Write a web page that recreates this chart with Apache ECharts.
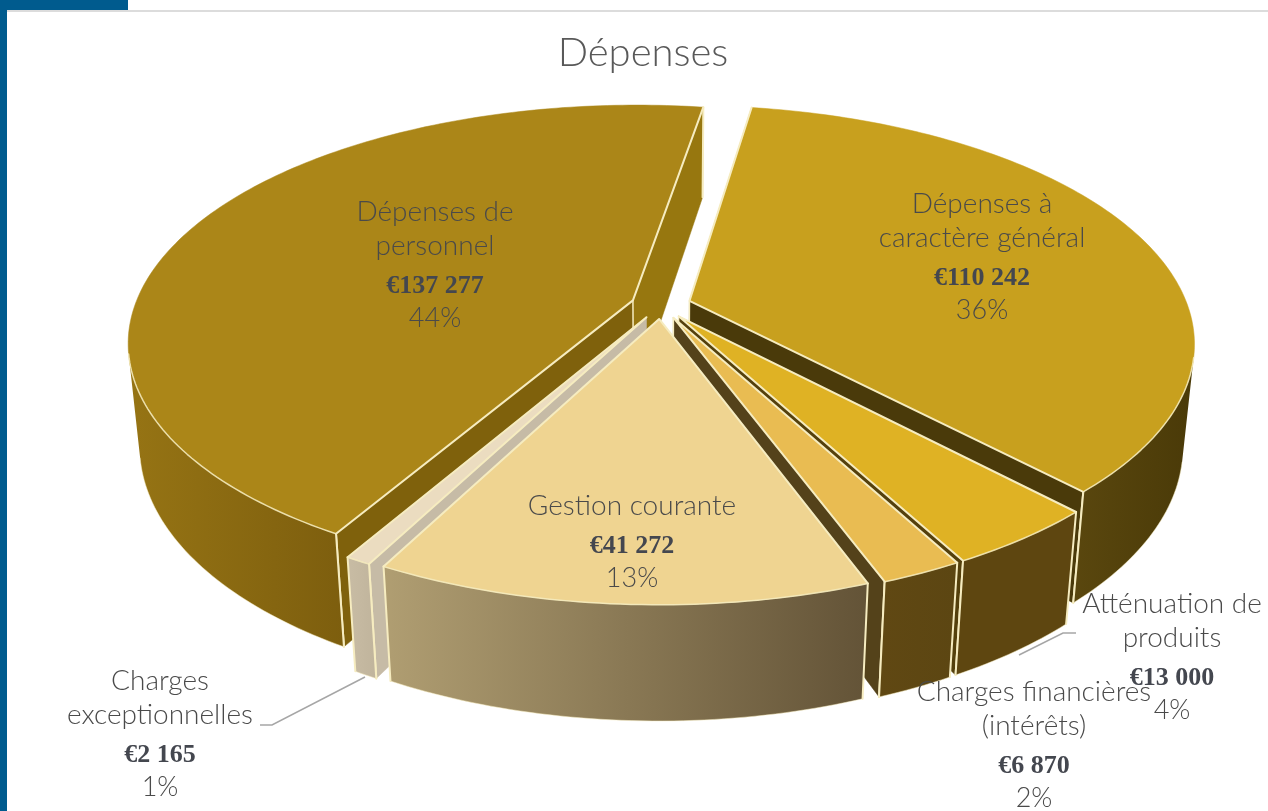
<!DOCTYPE html>
<html><head><meta charset="utf-8">
<style>html,body{margin:0;padding:0;background:#fff}#c{width:1268px;height:811px}</style>
<script src="https://cdn.jsdelivr.net/npm/echarts@6/dist/echarts.min.js"></script>
</head><body><div id="c"></div>
<script>
// ---- data (clockwise from the back of the pie)
const categories = ['Dépenses à\ncaractère général','Atténuation de\nproduits','Charges financières\n(intérêts)','Gestion courante','Charges\nexceptionnelles','Dépenses de\npersonnel'];
const values = [110242,13000,6870,41272,2165,137277];
const amountLabels = ['€110 242','€13 000','€6 870','€41 272','€2 165','€137 277'];
const percentLabels = ['36%','4%','2%','13%','1%','44%'];

// ---- styles
const topColors  = ['#c8a01e','#dfb224','#e9bc52','#efd491','#ebdcc0','#ab8618'];
const faceColors = ['#4a3a0a','#5c4510','#5a4718','#5c4a28','#c6bba6','#7f610c'];
const endFaceColors = ['#4a3a0a','#54400c','#54421a','#5c4a28','#c2b6a0','#97770f'];
const wallStops  = [['#5a470e','#4a3a08'],['#5e4610','#5e4610'],['#604813','#5c4612'],['#b09e72','#635337'],['#c8bca4','#c0b49c'],['#967414','#7d5e0e']];
const paintRank  = [1,2,3,5,4,0];
const edge = '#f6ecc0';

// ---- view
const startAngle = 9, explode = 0.06, thick = 0.235;
const view = {cx:661, cy:305, S:498, tilt:27.6*Math.PI/180, D:5.1};
function project(X,Y,Z){
  const yv = Y*Math.sin(view.tilt) - Z*Math.cos(view.tilt);
  const zv = Y*Math.cos(view.tilt) + Z*Math.sin(view.tilt);
  const s = 1/(1 - zv/view.D);
  return [view.cx + view.S*X*s, view.cy + view.S*yv*s];
}
function area(p){let a=0;for(let i=0;i<p.length;i++){const q=p[(i+1)%p.length];a+=p[i][0]*q[1]-q[0]*p[i][1];}return a/2;}
const total = values.reduce((a,b)=>a+b,0);

function renderItem(params, api){
  const i = params.dataIndex;
  let before = 0; for(let k=0;k<i;k++) before += values[k];
  const a0 = startAngle + before/total*360;
  const a1 = a0 + api.value(0)/total*360;
  const mid = (a0+a1)/2*Math.PI/180;
  const ox = Math.sin(mid)*explode, oy = -Math.cos(mid)*explode;
  const rim = (deg,Z)=>{const r=deg*Math.PI/180;return project(ox+Math.sin(r),oy-Math.cos(r),Z);};
  const apexT = project(ox,oy,0), apexB = project(ox,oy,-thick);
  const z = paintRank[i]*10;
  const children = [];
  const poly = (pts,fill,zz)=>children.push({type:'polygon',shape:{points:pts},z2:zz,
    style:{fill:fill,stroke:fill.type?null:fill,lineWidth:fill.type?0:0.5},silent:true});
  const line = (pts,lw,op,zz)=>children.push({type:'polyline',shape:{points:pts},z2:zz,
    style:{fill:null,stroke:edge,lineWidth:lw,opacity:op,lineJoin:'round',lineCap:'round'},silent:true});

  // radial cut faces
  const f0=[apexT,rim(a0,0),rim(a0,-thick),apexB];
  if(area(f0)<0){ poly(f0,faceColors[i],z); line([f0[1],f0[2]],2,1,z); }
  const f1=[rim(a1,0),apexT,apexB,rim(a1,-thick)];
  if(area(f1)<0){ poly(f1,endFaceColors[i],z); line([f1[0],f1[3]],2,1,z); line([f1[1],f1[2]],1.5,1,z); }

  // outer wall: only the part turned to the camera
  const steps = Math.max(4,Math.ceil(a1-a0));
  let upper=[],lower=[],firstVisible=false,lastVisible=false;
  for(let k=0;k<steps;k++){
    const d0=a0+(a1-a0)*k/steps,d1=a0+(a1-a0)*(k+1)/steps;
    const q=[rim(d0,0),rim(d1,0),rim(d1,-thick),rim(d0,-thick)];
    if(area(q)<0){
      if(k===0) firstVisible=true;
      if(k===steps-1) lastVisible=true;
      if(!upper.length){upper.push(q[0]);lower.push(q[3]);}
      upper.push(q[1]);lower.push(q[2]);
    }
  }
  if(upper.length){
    poly(upper.concat(lower.slice().reverse()),
      {type:'linear',x:0,y:0,x2:1,y2:0,colorStops:[{offset:0,color:wallStops[i][0]},{offset:1,color:wallStops[i][1]}]},z+1);
    line(lower,1,0.5,z+1);
    if(firstVisible) line([upper[0],lower[0]],2,1,z+1);
    if(lastVisible) line([upper[upper.length-1],lower[lower.length-1]],2,1,z+1);
  }

  // top
  const arc=[];
  for(let k=0;k<=steps;k++) arc.push(rim(a0+(a1-a0)*k/steps,0));
  poly([apexT].concat(arc),topColors[i],z+2);
  line([arc[0],apexT,arc[arc.length-1]],2,1,z+3);
  if(upper.length) line(upper,1.5,0.85,z+3);
  return {type:'group',children:children};
}

// ---- hand placed labels (centre x, top y) and leader lines
const labelSpots = [[982,187],[1172,587],[1034,675],[632,489],[160,664],[435,195]];
const leaderLines = [[[260,725],[272,725],[365,677]],[[1076,633],[1063,633],[1019,655]]];
const labelFont = '"Lato","Open Sans",sans-serif';
const labelGraphics = categories.map((c,i)=>({
  type:'text',x:labelSpots[i][0],y:labelSpots[i][1],z:100,silent:true,
  style:{
    text:c.split('\n').map(t=>'{n|'+t+'}').join('\n')+'\n{v|'+amountLabels[i]+'}\n{p|'+percentLabels[i]+'}',
    align:'center',verticalAlign:'top',
    rich:{
      n:{fontFamily:labelFont,fontWeight:300,fontSize:28,lineHeight:34,fill:'#4a4a4a',align:'center'},
      v:{fontFamily:'"Liberation Serif",serif',fontWeight:'bold',fontSize:26,lineHeight:46,fill:'#44474f',align:'center'},
      p:{fontFamily:labelFont,fontWeight:300,fontSize:27,lineHeight:18,fill:'#4a4a4a',align:'center'}
    }
  }
}));

const chart = echarts.init(document.getElementById('c'),null,{renderer:'canvas'});
chart.setOption({
  animation:false,
  backgroundColor:'#fff',
  title:{text:'Dépenses',left:638,top:28,textAlign:'center',
    textStyle:{fontFamily:labelFont,fontWeight:300,fontSize:40,color:'#595959'}},
  graphic:[
    {type:'rect',shape:{x:0,y:0,width:128,height:10},style:{fill:'#005b8e'},silent:true},
    {type:'rect',shape:{x:0,y:0,width:7,height:811},style:{fill:'#005b8e'},silent:true},
    {type:'rect',shape:{x:7,y:10,width:1261,height:2},style:{fill:'#dcdcdc'},silent:true},
    ...leaderLines.map(p=>({type:'polyline',shape:{points:p},z:50,silent:true,style:{stroke:'#a6a6a6',lineWidth:1.5,fill:null}})),
    ...labelGraphics
  ],
  series:[{
    type:'custom',coordinateSystem:'none',renderItem:renderItem,silent:true,
    data:values.map((v,i)=>({name:categories[i].replace('\n',' '),value:[v]}))
  }]
});
</script></body></html>
